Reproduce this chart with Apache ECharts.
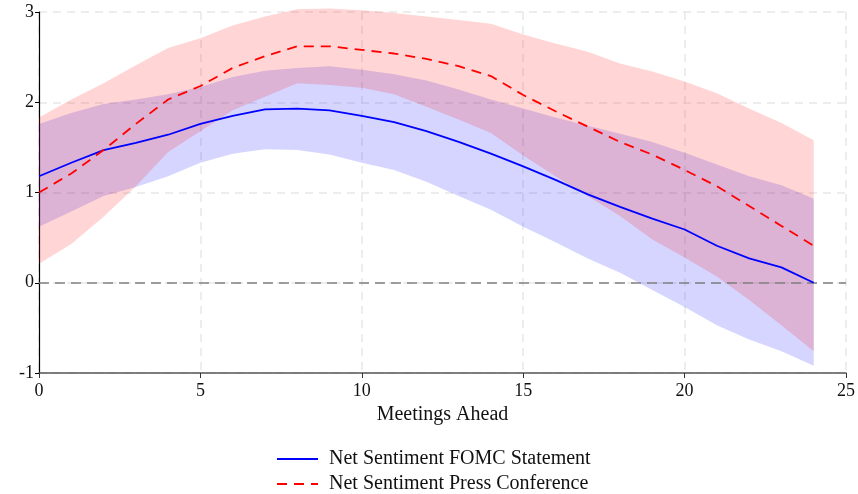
<!DOCTYPE html>
<html>
<head>
<meta charset="utf-8">
<script src="https://cdn.jsdelivr.net/npm/echarts@6/dist/echarts.min.js"></script>
<style>
  html, body { margin: 0; padding: 0; background: #fff; }
  #chart { width: 858px; height: 494px; }
</style>
</head>
<body>
<div id="chart"></div>
<script>
// Horizon in meetings ahead
const meetings = [0,1,2,3,4,5,6,7,8,9,10,11,12,13,14,15,16,17,18,19,20,21,22,23,24];

// Net sentiment response, FOMC statement (point estimate and band)
const fomc      = [1.18,1.33,1.47,1.55,1.64,1.76,1.85,1.92,1.93,1.91,1.85,1.78,1.68,1.56,1.43,1.29,1.14,0.98,0.84,0.71,0.59,0.41,0.27,0.17,0.00];
const fomcUpper = [1.76,1.88,1.98,2.03,2.09,2.17,2.28,2.35,2.38,2.40,2.36,2.31,2.24,2.14,2.03,1.93,1.83,1.74,1.65,1.56,1.44,1.31,1.18,1.08,0.93];
const fomcLower = [0.62,0.79,0.96,1.06,1.18,1.33,1.43,1.48,1.47,1.42,1.33,1.25,1.12,0.96,0.81,0.62,0.45,0.27,0.11,-0.08,-0.27,-0.47,-0.63,-0.76,-0.92];

// Net sentiment response, press conference (point estimate and band)
const press      = [1.00,1.21,1.47,1.76,2.03,2.18,2.38,2.51,2.62,2.62,2.58,2.54,2.48,2.40,2.29,2.08,1.90,1.73,1.56,1.42,1.25,1.07,0.85,0.63,0.41];
const pressUpper = [1.83,2.03,2.21,2.41,2.60,2.71,2.85,2.95,3.03,3.04,3.02,2.99,2.95,2.91,2.87,2.75,2.65,2.56,2.43,2.34,2.23,2.10,1.93,1.77,1.58];
const pressLower = [0.21,0.43,0.73,1.07,1.45,1.68,1.91,2.06,2.21,2.19,2.16,2.09,1.95,1.81,1.66,1.41,1.18,0.96,0.74,0.48,0.28,0.07,-0.19,-0.47,-0.76];

// Axis ticks
const xTicks = [0,5,10,15,20,25];
const yTicks = [-1,0,1,2,3];

const seriesNames = ['Net Sentiment FOMC Statement', 'Net Sentiment Press Conference'];

const FONT = '"Liberation Serif", "DejaVu Serif", serif';

const pairs = (ys) => meetings.map((x, i) => [x, ys[i]]);

// Shaded band drawn as one polygon through the axis scales
function band(lo, hi, color) {
  return {
    type: 'custom',
    silent: true,
    z: 1,
    clip: false,
    data: meetings.map((x, i) => [x, lo[i], hi[i]]),
    encode: { x: 0, y: [1, 2] },
    renderItem: function (params, api) {
      if (params.dataIndex !== 0) return null;
      const pts = [];
      for (let j = 0; j < meetings.length; j++) pts.push(api.coord([meetings[j], hi[j]]));
      for (let j = meetings.length - 1; j >= 0; j--) pts.push(api.coord([meetings[j], lo[j]]));
      return { type: 'polygon', shape: { points: pts }, style: { fill: color } };
    }
  };
}

const legendBase = {
  orient: 'horizontal',
  left: 276,
  padding: 0,
  itemWidth: 41,
  itemHeight: 14,
  itemStyle: { opacity: 0 },
  textStyle: { fontFamily: FONT, fontSize: 20, color: '#111', padding: [0, 0, 0, 6] }
};

const chart = echarts.init(document.getElementById('chart'), null, { renderer: 'canvas' });

chart.setOption({
  animation: false,
  backgroundColor: '#ffffff',
  grid: { left: 39, right: 9, top: 12, bottom: 121, containLabel: false },
  legend: [
    Object.assign({}, legendBase, { data: [seriesNames[0]], top: 449 }),
    Object.assign({}, legendBase, { data: [seriesNames[1]], top: 474 })
  ],
  xAxis: {
    type: 'value',
    min: 0, max: 25, interval: 5,
    name: 'Meetings Ahead',
    nameLocation: 'middle',
    nameGap: 32,
    nameTextStyle: { fontFamily: FONT, fontSize: 20, color: '#111' },
    axisLine: { onZero: false, lineStyle: { color: '#555', width: 1.5 } },
    axisTick: { show: true, length: 5, lineStyle: { color: '#333', width: 1 } },
    axisLabel: {
      fontFamily: FONT, fontSize: 18, color: '#111', margin: 9,
      formatter: v => xTicks.includes(v) ? String(v) : ''
    },
    splitLine: { show: true, lineStyle: { color: '#e8e8e8', type: [8, 6], width: 1.5 } }
  },
  yAxis: {
    type: 'value',
    min: -1, max: 3, interval: 1,
    axisLine: { show: true, onZero: false, lineStyle: { color: '#000', width: 1.2 } },
    axisTick: { show: true, length: 4, lineStyle: { color: '#000', width: 1 } },
    axisLabel: {
      fontFamily: FONT, fontSize: 18, color: '#111', margin: 5,
      formatter: v => yTicks.includes(v) ? String(v) : ''
    },
    splitLine: { show: true, lineStyle: { color: '#e8e8e8', type: [8, 6], width: 1.5 } }
  },
  series: [
    band(fomcLower, fomcUpper, 'rgba(0,0,255,0.165)'),
    band(pressLower, pressUpper, 'rgba(255,0,0,0.165)'),
    {
      type: 'line', name: seriesNames[0], data: pairs(fomc),
      symbol: 'none', showSymbol: false, z: 5,
      lineStyle: { color: '#0000ff', width: 1.8, type: 'solid' },
      itemStyle: { color: '#0000ff' },
      markLine: {
        silent: true, symbol: 'none', label: { show: false },
        lineStyle: { color: '#808080', type: [10, 6], width: 1.7 },
        data: [{ yAxis: 0 }]
      }
    },
    {
      type: 'line', name: seriesNames[1], data: pairs(press),
      symbol: 'none', showSymbol: false, z: 6,
      lineStyle: { color: '#ff0000', width: 1.8, type: [10, 7] },
      itemStyle: { color: '#ff0000' }
    }
  ]
});
</script>
</body>
</html>
